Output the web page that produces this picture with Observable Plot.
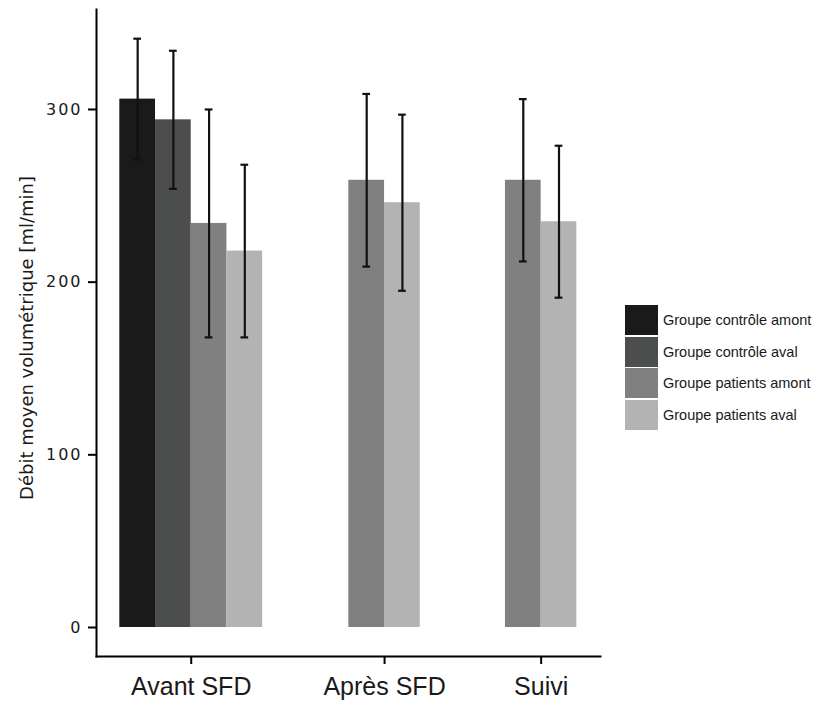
<!DOCTYPE html>
<html>
<head>
<meta charset="utf-8">
<script src="https://cdn.jsdelivr.net/npm/d3@7"></script>
<script src="https://cdn.jsdelivr.net/npm/@observablehq/plot@0.6"></script>
<style>
  html, body { margin: 0; padding: 0; background: #fff; }
  #wrap { position: relative; width: 817px; height: 702px; }
  #legend { position: absolute; left: 625px; top: 305px; font-family: "Liberation Sans", Arial, sans-serif; font-size: 14.5px; color: #1a1a1a; }
  .item { display: flex; align-items: center; height: 30px; margin-bottom: 1.5px; }
  .sw { width: 33px; height: 30px; margin-right: 5px; }
  g[aria-label="y-axis tick label"] text { letter-spacing: 2px; }
</style>
</head>
<body>
<div id="wrap"><div id="legend"></div></div>
<script>
// ---- Data ----
const periods = ["Avant SFD", "Après SFD", "Suivi"];
const periodPos = [1, 2, 2.81];
const series = ["Groupe contrôle amont", "Groupe contrôle aval", "Groupe patients amont", "Groupe patients aval"];
const colors = ["#1a1a1a", "#4c4e4d", "#808080", "#b3b3b3"];

const controleAmont   = [306, null, null];
const controleAval    = [294, null, null];
const patientsAmont   = [234, 259, 259];
const patientsAval    = [218, 246, 235];

const controleAmontSD = [35, null, null];
const controleAvalSD  = [40, null, null];
const patientsAmontSD = [66, 50, 47];
const patientsAvalSD  = [50, 51, 44];

const yTicks = [0, 100, 200, 300];
const yTitle = "Débit moyen volumétrique [ml/min]";

// ---- Build table ----
const means = [controleAmont, controleAval, patientsAmont, patientsAval];
const sds = [controleAmontSD, controleAvalSD, patientsAmontSD, patientsAvalSD];
const barW = 0.1847;
const capW = 0.02;
const rows = [];
periods.forEach((p, i) => {
  const present = series.map((s, j) => j).filter(j => means[j][i] != null);
  const n = present.length;
  present.forEach((j, k) => {
    const c = periodPos[i] + (k - (n - 1) / 2) * barW;
    rows.push({period: p, series: series[j], mean: means[j][i], sd: sds[j][i], xc: c, x1: c - barW / 2, x2: c + barW / 2});
  });
});

const chart = Plot.plot({
  width: 817,
  height: 702,
  marginLeft: 96,
  marginRight: 217,
  marginTop: 9,
  marginBottom: 46,
  style: {fontFamily: "Liberation Sans, Arial, sans-serif", color: "#1a1a1a", background: "#fff"},
  x: {type: "linear", domain: [0.51, 3.117]},
  y: {domain: [-16.8, 357.9]},
  color: {domain: series, range: colors},
  marks: [
    Plot.rect(rows, {x1: "x1", x2: "x2", y1: 0, y2: "mean", fill: "series", inset: 0}),
    Plot.ruleX(rows, {x: "xc", y1: d => d.mean - d.sd, y2: d => d.mean + d.sd, stroke: "#111", strokeWidth: 2.2}),
    Plot.ruleY(rows, {y: d => d.mean + d.sd, x1: d => d.xc - capW, x2: d => d.xc + capW, stroke: "#111", strokeWidth: 2.2}),
    Plot.ruleY(rows, {y: d => d.mean - d.sd, x1: d => d.xc - capW, x2: d => d.xc + capW, stroke: "#111", strokeWidth: 2.2}),
    Plot.frame({anchor: "left", stroke: "#000", strokeWidth: 2}),
    Plot.frame({anchor: "bottom", stroke: "#000", strokeWidth: 2}),
    Plot.axisY({ticks: yTicks, tickSize: 8, tickPadding: 6, label: null, fontSize: 16, fontFamily: "DejaVu Sans", strokeWidth: 2, stroke: "#000"}),
    Plot.axisX({ticks: periodPos, tickFormat: d => periods[periodPos.indexOf(d)], tickSize: 8, tickPadding: 13, label: null, fontSize: 25, strokeWidth: 2, stroke: "#000"}),
    Plot.text([yTitle], {frameAnchor: "left", textAnchor: "middle", rotate: -90, dx: -69, dy: 5, fontSize: 18, fontFamily: "DejaVu Sans", fill: "#1a1a1a"})
  ]
});
const wrap = document.getElementById("wrap");
wrap.insertBefore(chart, wrap.firstChild);

const legend = document.getElementById("legend");
series.forEach((s, i) => {
  const item = document.createElement("div");
  item.className = "item";
  const sw = document.createElement("div");
  sw.className = "sw";
  sw.style.background = colors[i];
  const t = document.createElement("span");
  t.textContent = s;
  item.appendChild(sw);
  item.appendChild(t);
  legend.appendChild(item);
});
</script>
</body>
</html>
